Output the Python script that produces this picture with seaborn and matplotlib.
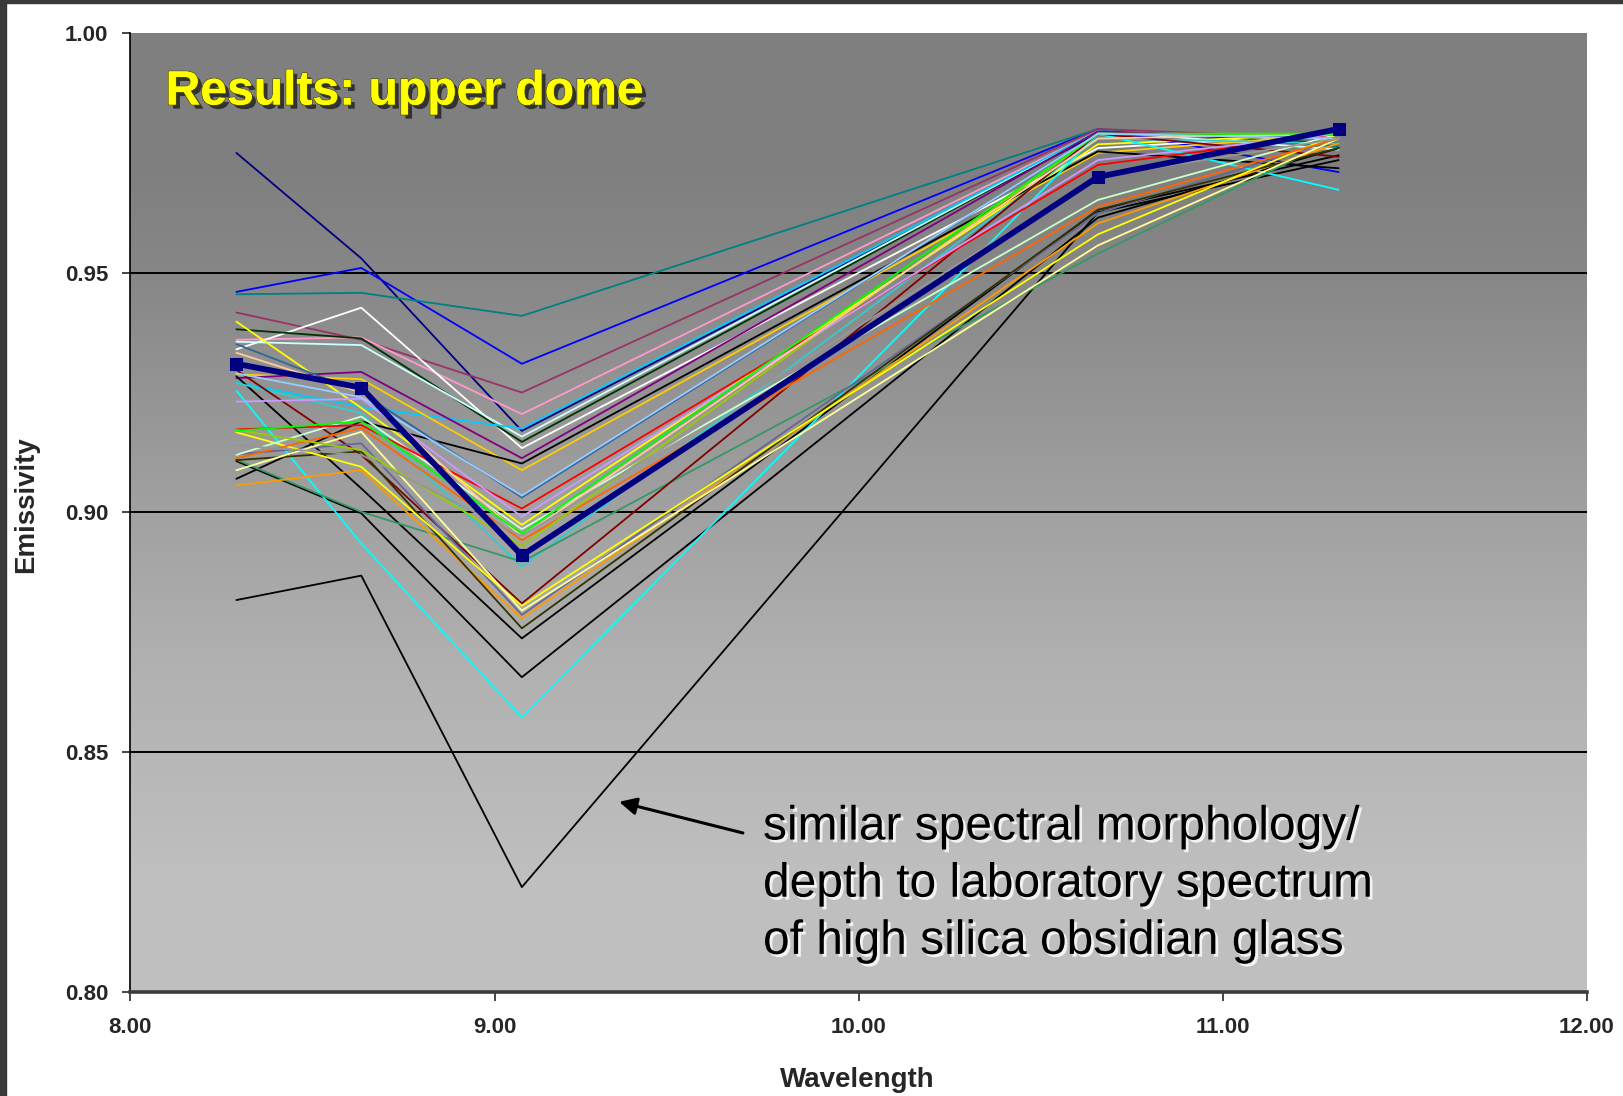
import numpy as np
import pandas as pd
import matplotlib
matplotlib.use("Agg")
import matplotlib.pyplot as plt
import matplotlib.patheffects as pe
from matplotlib.colors import LinearSegmentedColormap
from matplotlib.patches import Rectangle
from matplotlib.ticker import FormatStrFormatter
import seaborn as sns

# ASTER TIR band centres (micrometres)
wavelength = [8.291, 8.634, 9.075, 10.657, 11.318]

# Mean spectrum (thick line with markers)
mean_spectrum = [0.931, 0.926, 0.891, 0.970, 0.980]

# Individual pixel spectra: name -> colour, emissivity per band
series_colors = {
    "s01": "#000080", "s02": "#0000FF", "s03": "#008080", "s04": "#993366",
    "s05": "#FF99CC", "s06": "#FFFFFF", "s07": "#003300", "s08": "#CCFFFF",
    "s09": "#00CCFF", "s10": "#FFFF00", "s11": "#FFCC00", "s12": "#800080",
    "s13": "#000000", "s14": "#000000", "s15": "#000000", "s16": "#000000",
    "s17": "#00FFFF", "s18": "#33CCCC", "s19": "#339966", "s20": "#800000",
    "s21": "#666699", "s22": "#FF9900", "s23": "#333300", "s24": "#FFFF00",
    "s25": "#FFFF99", "s26": "#FF6600", "s27": "#CCFFCC", "s28": "#FF0000",
    "s29": "#99CC00", "s30": "#CC99FF", "s31": "#336699", "s32": "#FFCC99",
    "s33": "#00FF00", "s34": "#99CCFF", "s35": "#969696",
}
series_values = {
    "s01": [0.975, 0.953, 0.917, 0.979, 0.977],
    "s02": [0.946, 0.951, 0.931, 0.980, 0.971],
    "s03": [0.9455, 0.9458, 0.941, 0.980, 0.9763],
    "s04": [0.9417, 0.936, 0.925, 0.980, 0.978],
    "s05": [0.936, 0.9365, 0.9205, 0.9795, 0.978],
    "s06": [0.934, 0.9427, 0.9134, 0.976, 0.979],
    "s07": [0.9382, 0.9363, 0.9147, 0.9795, 0.977],
    "s08": [0.9356, 0.9349, 0.9158, 0.9795, 0.9757],
    "s09": [0.9271, 0.922, 0.9175, 0.9795, 0.978],
    "s10": [0.9398, 0.9218, 0.8974, 0.9768, 0.979],
    "s11": [0.9288, 0.9278, 0.9088, 0.975, 0.979],
    "s12": [0.928, 0.9293, 0.9113, 0.9795, 0.978],
    "s13": [0.8817, 0.8868, 0.8218, 0.9626, 0.9735],
    "s14": [0.907, 0.919, 0.9102, 0.9753, 0.9718],
    "s15": [0.9284, 0.905, 0.8737, 0.9631, 0.9745],
    "s16": [0.9107, 0.8998, 0.8656, 0.9615, 0.976],
    "s17": [0.9254, 0.8935, 0.8572, 0.979, 0.9673],
    "s18": [0.927, 0.9207, 0.8887, 0.978, 0.977],
    "s19": [0.911, 0.9001, 0.8897, 0.954, 0.978],
    "s20": [0.9297, 0.912, 0.881, 0.979, 0.9742],
    "s21": [0.9121, 0.9144, 0.8786, 0.9624, 0.978],
    "s22": [0.9056, 0.9088, 0.8779, 0.9603, 0.977],
    "s23": [0.9109, 0.9127, 0.8758, 0.9631, 0.976],
    "s24": [0.9167, 0.9095, 0.8805, 0.958, 0.979],
    "s25": [0.9088, 0.9168, 0.8795, 0.9557, 0.978],
    "s26": [0.9113, 0.9176, 0.8942, 0.9638, 0.978],
    "s27": [0.912, 0.920, 0.8965, 0.9652, 0.979],
    "s28": [0.9173, 0.9182, 0.9008, 0.9725, 0.979],
    "s29": [0.9172, 0.913, 0.893, 0.979, 0.979],
    "s30": [0.9231, 0.9237, 0.8991, 0.9735, 0.979],
    "s31": [0.9351, 0.925, 0.9031, 0.979, 0.978],
    "s32": [0.9333, 0.925, 0.8949, 0.978, 0.979],
    "s33": [0.917, 0.919, 0.8956, 0.979, 0.979],
    "s34": [0.929, 0.924, 0.9035, 0.979, 0.978],
    "s35": [0.914, 0.912, 0.895, 0.970, 0.978],
}

y_ticks = [0.80, 0.85, 0.90, 0.95, 1.00]
x_ticks = [8.0, 9.0, 10.0, 11.0, 12.0]
title_text = "Results: upper dome"
note_lines = ["similar spectral morphology/",
              "depth to laboratory spectrum",
              "of high silica obsidian glass"]

sns.set_style("white")
plt.rcParams["font.family"] = ["Liberation Sans", "DejaVu Sans"]

W, H = 1623, 1096
fig = plt.figure(figsize=(W / 100, H / 100), dpi=100, facecolor="white")
ax_l, ax_r, ax_t, ax_b = 130.4, 1587.0, 33.1, 991.6
ax = fig.add_axes([ax_l / W, 1 - ax_b / H, (ax_r - ax_l) / W, (ax_b - ax_t) / H])

# Dark frame along the left and top edges of the slide
fig.patches.append(Rectangle((0, 0), 6 / W, 1, transform=fig.transFigure,
                             color="#3a3a3a", zorder=0))
fig.patches.append(Rectangle((0, 1 - 3 / H), 1, 3 / H, transform=fig.transFigure,
                             color="#3a3a3a", zorder=0))

# Vertical grey gradient in the plot area
grad_cmap = LinearSegmentedColormap.from_list(
    "plotbg", [(0.0, "#c0c0c0"), (0.12, "#bfbfbf"), (0.35, "#b0b0b0"),
               (0.55, "#9c9c9c"), (0.75, "#878787"), (0.85, "#808080"),
               (1.0, "#7f7f7f")])
grad = np.linspace(0, 1, 512).reshape(-1, 1)
ax.imshow(grad, cmap=grad_cmap, origin="lower", aspect="auto",
          extent=[8, 12, 0.8, 1.0], zorder=0, interpolation="bilinear")

for yv in [0.85, 0.90, 0.95]:
    ax.axhline(yv, color="black", lw=1.4, zorder=1)

rows = []
for name, vals in series_values.items():
    for wl, v in zip(wavelength, vals):
        rows.append({"series": name, "wavelength": wl, "emissivity": v})
df = pd.DataFrame(rows)

sns.lineplot(data=df, x="wavelength", y="emissivity", hue="series",
             palette=series_colors, estimator=None, sort=False, legend=False,
             linewidth=1.3, ax=ax, zorder=2)

mean_df = pd.DataFrame({"wavelength": wavelength, "emissivity": mean_spectrum})
sns.lineplot(data=mean_df, x="wavelength", y="emissivity", color="#000080",
             linewidth=4.2, marker="s", markersize=9, markeredgecolor="#000080",
             estimator=None, sort=False, ax=ax, zorder=3)

ax.set_xlim(8, 12)
ax.set_ylim(0.8, 1.0)
ax.set_xticks(x_ticks)
ax.set_yticks(y_ticks)
ax.xaxis.set_major_formatter(FormatStrFormatter("%.2f"))
ax.yaxis.set_major_formatter(FormatStrFormatter("%.2f"))
ax.tick_params(axis="y", direction="out", length=6, width=1.2, pad=10,
               labelsize=16, left=True)
ax.tick_params(axis="x", direction="out", length=6.5, width=1.2, pad=12,
               labelsize=16, bottom=True)
for lab in ax.get_xticklabels() + ax.get_yticklabels():
    lab.set_fontweight("bold")

for side in ["top", "right"]:
    ax.spines[side].set_visible(False)
ax.spines["left"].set_color("black")
ax.spines["left"].set_linewidth(1.2)
ax.spines["bottom"].set_color("#3c3c3c")
ax.spines["bottom"].set_linewidth(2.6)

ax.set_xlabel("Wavelength", fontsize=20, fontweight="bold", va="center")
ax.xaxis.set_label_coords(0.499, -0.092)
ax.set_ylabel("Emissivity", fontsize=20, fontweight="bold", va="center")
ax.yaxis.set_label_coords(-0.0717, 0.508)

fig.text(165.6 / W, 1 - 104.5 / H, title_text, fontsize=34.6, fontweight="bold",
         color="#FFFF00", va="baseline", ha="left", zorder=10,
         path_effects=[pe.SimplePatchShadow(offset=(3, -3), shadow_rgbFace="black",
                                            alpha=0.6),
                       pe.withStroke(linewidth=1.2, foreground="#5a5a00"),
                       pe.Normal()])

ax.annotate("", xy=(9.342, 0.8396), xytext=(9.682, 0.8331),
            arrowprops=dict(arrowstyle="-|>", color="black", lw=2.2,
                            mutation_scale=26, shrinkA=0, shrinkB=0),
            zorder=5)

for i, line in enumerate(note_lines):
    fig.text(763 / W, 1 - (839.5 + 57.2 * i) / H, line, fontsize=34.5,
             color="black", va="baseline", ha="left", zorder=10,
             path_effects=[pe.SimplePatchShadow(offset=(2, -2), shadow_rgbFace="white",
                                                alpha=0.8),
                           pe.Normal()])

fig.savefig("out.png", dpi=100, facecolor="white")
